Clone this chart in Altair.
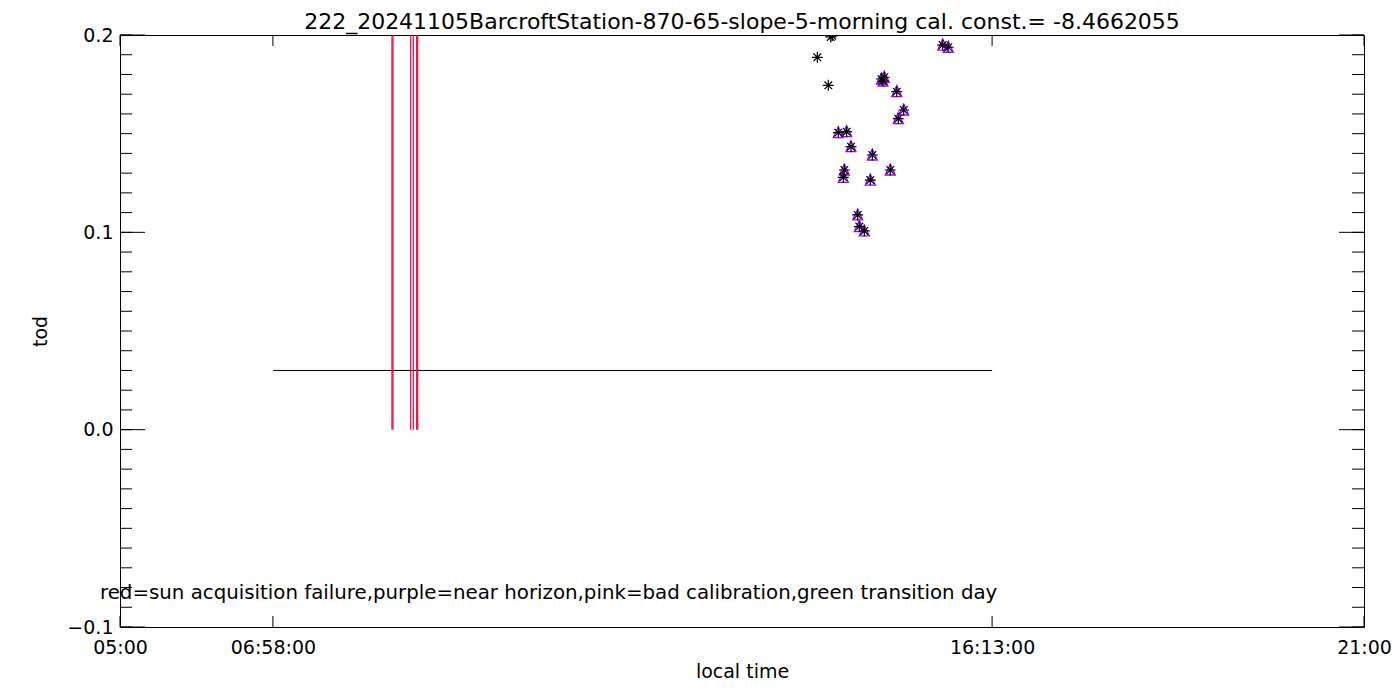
import altair as alt
import pandas as pd

# ---------------- data ----------------
title_text = "222_20241105BarcroftStation-870-65-slope-5-morning cal. const.= -8.4662055"
note_text = "red=sun acquisition failure,purple=near horizon,pink=bad calibration,green transition day"

x_tick_values = [5.0, 6.9667, 16.2167, 21.0]
x_tick_labels = ["05:00", "06:58:00", "16:13:00", "21:00"]
y_major = [-0.1, 0.0, 0.1, 0.2]
y_minor = [round(-0.1 + i * 0.01, 2) for i in range(31)]

# measurements (local time in hours, tod)
obs_hour = [13.969, 14.110, 14.141, 14.160, 14.239, 14.346, 14.402, 14.316, 14.303,
            14.488, 14.509, 14.573, 14.676, 14.650, 14.830, 14.813, 14.794,
            14.907, 14.990, 15.080, 15.010, 15.581, 15.653]
obs_tod = [0.1887, 0.1745, 0.1990, 0.1996, 0.1505, 0.1510, 0.1434, 0.1316, 0.1279,
           0.1088, 0.1029, 0.1007, 0.1392, 0.1265, 0.1786, 0.1767, 0.1777,
           0.1316, 0.1713, 0.1620, 0.1576, 0.1949, 0.1938]
obs_near_horizon = [False, False, False, False, True, True, True, True, True,
                    True, True, True, True, True, True, True, True,
                    True, True, True, True, True, True]

# sun acquisition failures (vertical red lines)
fail_hour = [8.498, 8.511, 8.739, 8.772, 8.816, 8.829]
fail_low = 0.0
fail_high = 0.2

# calibration constant line
cal_start, cal_end, cal_level = 6.9667, 16.2167, 0.03

# ---------------- layout ----------------
W, H = 1244, 592
FONT = "DejaVu Sans"
RED = "#e8003c"
PURPLE = "#9b00ff"

xs = alt.Scale(domain=[5, 21], nice=False, zero=False)
ys = alt.Scale(domain=[-0.1, 0.2], nice=False, zero=False)

obs = pd.DataFrame({"hour": obs_hour, "tod": obs_tod, "nh": obs_near_horizon})
fails = pd.DataFrame({"hour": fail_hour, "tod": [fail_low] * len(fail_hour),
                      "hi": [fail_high] * len(fail_hour)})
cal = pd.DataFrame({"hour": [cal_start], "hour2": [cal_end], "tod": [cal_level]})

label_expr = " : ".join(
    f"abs(datum.value - {v}) < 0.001 ? '{l}'" for v, l in zip(x_tick_values, x_tick_labels)
) + " : ''"

x_axis = alt.Axis(values=x_tick_values, labelExpr=label_expr, ticks=False, domain=False,
                  grid=False, labelFontSize=19, labelFont=FONT, labelColor="black",
                  labelPadding=11, title="local time", titleFontSize=19, titleFont=FONT,
                  titleFontWeight="normal", titleColor="black", titlePadding=5,
                  labelOverlap=False, labelFlush=False)
y_axis = alt.Axis(values=y_major, format=".1f", ticks=False, domain=False, grid=False,
                  labelFontSize=19, labelFont=FONT, labelColor="black", labelPadding=7,
                  title="tod", titleFontSize=19, titleFont=FONT, titleFontWeight="normal",
                  titleColor="black", titlePadding=16)

X = lambda f: alt.X(f, scale=xs, axis=x_axis, title="local time")
Y = lambda f: alt.Y(f, scale=ys, axis=y_axis, title="tod")

# calibration line
cal_layer = alt.Chart(cal).mark_rule(color="black", strokeWidth=1).encode(
    x=X("hour:Q"), x2="hour2:Q", y=Y("tod:Q"),
)

fail_layer = alt.Chart(fails).mark_rule(color=RED, strokeWidth=1.2, clip=True).encode(
    x=X("hour:Q"), y=Y("tod:Q"), y2="hi:Q",
)

triangle_path = "M0,-1.2L1,1L-1,1Z"
star_path = "M-1,0L1,0M0,-1L0,1M-0.7,-0.7L0.7,0.7M-0.7,0.7L0.7,-0.7"

tri_layer = alt.Chart(obs).transform_filter("datum.nh").mark_point(
    shape=triangle_path, size=100, filled=False, stroke=PURPLE, strokeWidth=1.3,
    opacity=1, clip=True).encode(x=X("hour:Q"), y=Y("tod:Q"))

star_layer = alt.Chart(obs).mark_point(
    shape=star_path, size=120, filled=False, stroke="black", strokeWidth=1.2,
    opacity=1, clip=True).encode(x=X("hour:Q"), y=Y("tod:Q"))

# axis tick marks (inside the frame)
ymaj = pd.DataFrame({"tod": y_major})
ymin = pd.DataFrame({"tod": y_minor})
xt = pd.DataFrame({"hour": x_tick_values})

def yticks(df, length):
    left = alt.Chart(df).mark_rule(color="black", strokeWidth=1).encode(
        y=Y("tod:Q"), x=alt.value(0), x2=alt.value(length))
    right = alt.Chart(df).mark_rule(color="black", strokeWidth=1).encode(
        y=Y("tod:Q"), x=alt.value(W - length), x2=alt.value(W))
    return [left, right]

xt_bottom = alt.Chart(xt).mark_rule(color="black", strokeWidth=1).encode(
    x=X("hour:Q"), y=alt.value(H - 11), y2=alt.value(H))
xt_top = alt.Chart(xt).mark_rule(color="black", strokeWidth=1).encode(
    x=X("hour:Q"), y=alt.value(0), y2=alt.value(11))

note = alt.Chart(pd.DataFrame({"t": [note_text]})).mark_text(
    align="left", baseline="middle", fontSize=19.8, font=FONT, color="black").encode(
    text="t:N", x=alt.value(-20), y=alt.value(558))

title = alt.Chart(pd.DataFrame({"t": [title_text]})).mark_text(
    align="center", baseline="middle", fontSize=22, font=FONT, color="black").encode(
    text="t:N", x=alt.value(W / 2), y=alt.value(-13))

chart = alt.layer(
    cal_layer, fail_layer, *yticks(ymin, 12), *yticks(ymaj, 25), xt_bottom, xt_top,
    tri_layer, star_layer, note, title,
).properties(
    width=W, height=H,
    background="white",
    autosize=alt.AutoSizeParams(type="none"),
    padding={"left": 112, "top": 27, "right": 28, "bottom": 65},
).configure_view(stroke="black", strokeWidth=1)

chart.save("out.html", embed_options={"renderer": "svg", "actions": False})
